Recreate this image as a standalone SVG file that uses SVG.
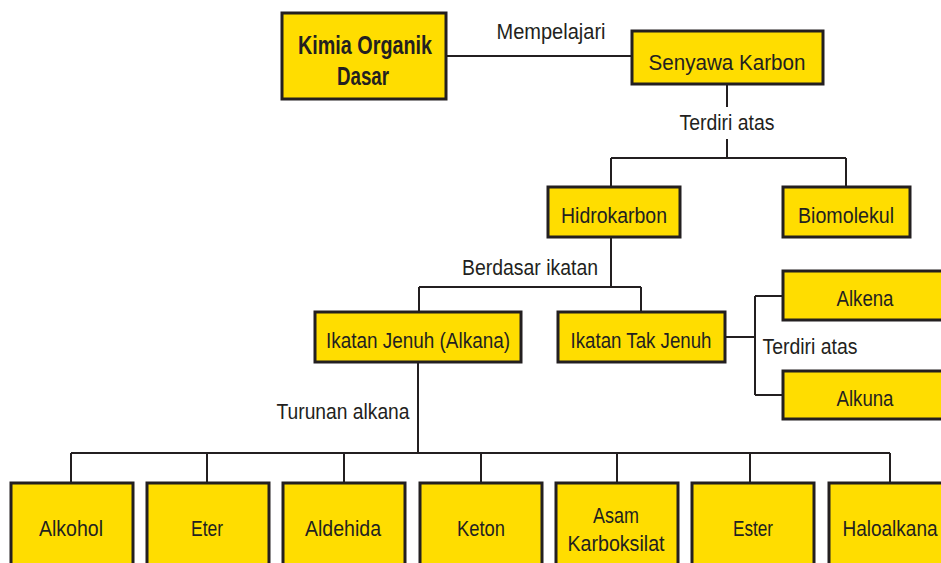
<svg xmlns="http://www.w3.org/2000/svg" width="941" height="563" viewBox="0 0 941 563">
  <style>
    .box { fill: #FFDD00; stroke: #231f20; stroke-width: 3; }
    .lbl { font-family: "Liberation Sans", Arial, sans-serif; font-size: 22px; fill: #231f20; text-anchor: middle; }
    .bold { font-weight: bold; font-size: 25px; }
    .link { fill: none; stroke: #231f20; stroke-width: 2; }
  </style>
  <rect width="941" height="563" fill="#ffffff"/>

  <!-- connectors and their labels -->
  <g id="connectors">
    <path class="link" d="M447 56 H632"/>
    <path class="link" d="M727 84 V107 M727 139 V158 M611 158 H846 M611 158 V186 M846 158 V186"/>
    <path class="link" d="M611 237 V287 M419 287 H641 M419 287 V311 M641 287 V311"/>
    <path class="link" d="M725 337 H755 M755 296 V395 M755 296 H783 M755 395 H783"/>
    <path class="link" d="M418 362 V453 M71 453 H890 M71 453 V482 M207 453 V482 M344 453 V482 M481 453 V482 M617 453 V482 M750 453 V482 M890 453 V482"/>
    <text class="lbl" x="551" y="39" textLength="109" lengthAdjust="spacingAndGlyphs">Mempelajari</text>
    <text class="lbl" x="727" y="130" textLength="95" lengthAdjust="spacingAndGlyphs">Terdiri atas</text>
    <text class="lbl" x="530" y="275" textLength="136" lengthAdjust="spacingAndGlyphs">Berdasar ikatan</text>
    <text class="lbl" x="810" y="354" textLength="95" lengthAdjust="spacingAndGlyphs">Terdiri atas</text>
    <text class="lbl" x="343" y="419" textLength="133" lengthAdjust="spacingAndGlyphs">Turunan alkana</text>
  </g>

  <g id="kimia-organik-dasar">
    <rect class="box" x="282" y="13" width="164" height="86"/>
    <text class="lbl bold" x="365" y="54" textLength="134" lengthAdjust="spacingAndGlyphs">Kimia Organik</text>
    <text class="lbl bold" x="363" y="85" textLength="52" lengthAdjust="spacingAndGlyphs">Dasar</text>
  </g>
  <g id="senyawa-karbon">
    <rect class="box" x="632" y="31" width="191" height="53"/>
    <text class="lbl" x="727" y="70" textLength="157" lengthAdjust="spacingAndGlyphs">Senyawa Karbon</text>
  </g>
  <g id="hidrokarbon">
    <rect class="box" x="548" y="187" width="132" height="50"/>
    <text class="lbl" x="614" y="223" textLength="106" lengthAdjust="spacingAndGlyphs">Hidrokarbon</text>
  </g>
  <g id="biomolekul">
    <rect class="box" x="783" y="187" width="127" height="50"/>
    <text class="lbl" x="846" y="223" textLength="96" lengthAdjust="spacingAndGlyphs">Biomolekul</text>
  </g>
  <g id="ikatan-jenuh">
    <rect class="box" x="315" y="312" width="206" height="50"/>
    <text class="lbl" x="418" y="348" textLength="184" lengthAdjust="spacingAndGlyphs">Ikatan Jenuh (Alkana)</text>
  </g>
  <g id="ikatan-tak-jenuh">
    <rect class="box" x="558" y="312" width="167" height="50"/>
    <text class="lbl" x="641" y="348" textLength="141" lengthAdjust="spacingAndGlyphs">Ikatan Tak Jenuh</text>
  </g>
  <g id="alkena">
    <rect class="box" x="783" y="271" width="170" height="49"/>
    <text class="lbl" x="865" y="306" textLength="57" lengthAdjust="spacingAndGlyphs">Alkena</text>
  </g>
  <g id="alkuna">
    <rect class="box" x="783" y="371" width="170" height="48"/>
    <text class="lbl" x="865" y="406" textLength="57" lengthAdjust="spacingAndGlyphs">Alkuna</text>
  </g>

  <g id="alkohol">
    <rect class="box" x="11" y="483" width="122" height="90"/>
    <text class="lbl" x="71" y="536" textLength="64" lengthAdjust="spacingAndGlyphs">Alkohol</text>
  </g>
  <g id="eter">
    <rect class="box" x="147" y="483" width="122" height="90"/>
    <text class="lbl" x="207" y="536" textLength="32" lengthAdjust="spacingAndGlyphs">Eter</text>
  </g>
  <g id="aldehida">
    <rect class="box" x="283" y="483" width="122" height="90"/>
    <text class="lbl" x="343" y="536" textLength="76" lengthAdjust="spacingAndGlyphs">Aldehida</text>
  </g>
  <g id="keton">
    <rect class="box" x="420" y="483" width="122" height="90"/>
    <text class="lbl" x="481" y="536" textLength="48" lengthAdjust="spacingAndGlyphs">Keton</text>
  </g>
  <g id="asam-karboksilat">
    <rect class="box" x="556" y="483" width="122" height="90"/>
    <text class="lbl" x="616" y="523" textLength="46" lengthAdjust="spacingAndGlyphs">Asam</text>
    <text class="lbl" x="616" y="551" textLength="97" lengthAdjust="spacingAndGlyphs">Karboksilat</text>
  </g>
  <g id="ester">
    <rect class="box" x="692" y="483" width="122" height="90"/>
    <text class="lbl" x="753" y="536" textLength="40" lengthAdjust="spacingAndGlyphs">Ester</text>
  </g>
  <g id="haloalkana">
    <rect class="box" x="829" y="483" width="130" height="90"/>
    <text class="lbl" x="890" y="536" textLength="95" lengthAdjust="spacingAndGlyphs">Haloalkana</text>
  </g>
</svg>
